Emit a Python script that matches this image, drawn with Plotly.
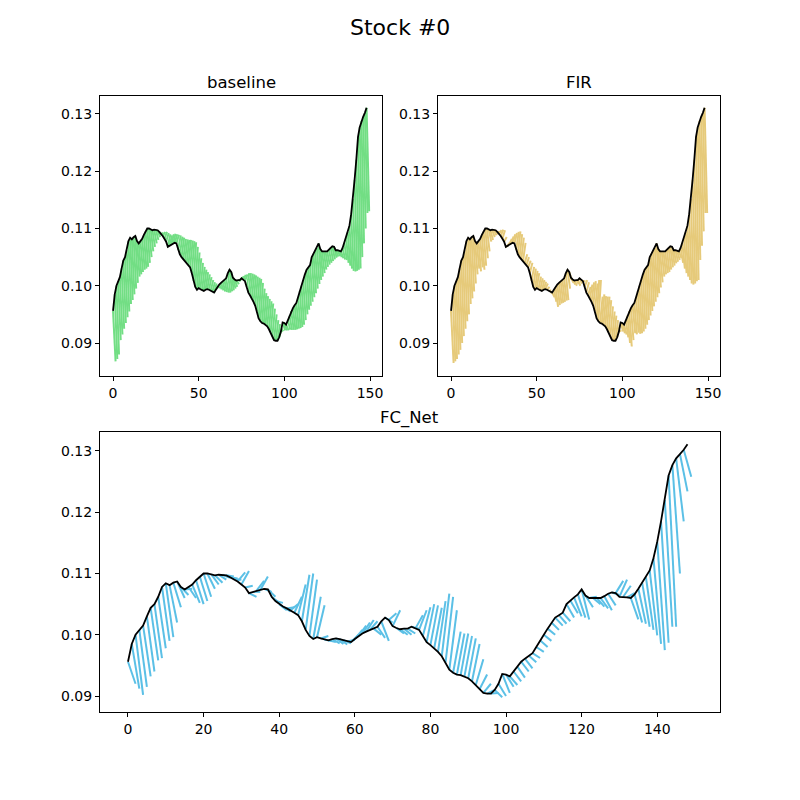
import plotly.graph_objects as go

# true price path, one value per step t = 0..148
price = [
    0.0956, 0.0985, 0.1000, 0.1008, 0.1015, 0.1030, 0.1044, 0.1050, 0.1062, 0.1078,
    0.1084, 0.1081, 0.1085, 0.1087, 0.1078, 0.1074, 0.1078, 0.1082, 0.1089, 0.1095,
    0.1100, 0.1100, 0.1099, 0.1097, 0.1098, 0.1098, 0.1097, 0.1094, 0.1091, 0.1087,
    0.1082, 0.1077, 0.1068, 0.1070, 0.1072, 0.1073, 0.1075, 0.1074, 0.1062, 0.1055,
    0.1050, 0.1046, 0.1043, 0.1040, 0.1036, 0.1032, 0.1022, 0.1008, 0.0998, 0.0993,
    0.0996, 0.0994, 0.0992, 0.0991, 0.0993, 0.0994, 0.0993, 0.0991, 0.0989, 0.0988,
    0.0993, 0.0998, 0.1002, 0.1005, 0.1008, 0.1010, 0.1013, 0.1022, 0.1028, 0.1024,
    0.1014, 0.1011, 0.1009, 0.1010, 0.1010, 0.1013, 0.1010, 0.1008, 0.0998, 0.0988,
    0.0983, 0.0978, 0.0972, 0.0965, 0.0955, 0.0943, 0.0938, 0.0935, 0.0934, 0.0932,
    0.0929, 0.0924, 0.0918, 0.0911, 0.0905, 0.0904, 0.0904, 0.0910, 0.0920, 0.0936,
    0.0935, 0.0932, 0.0940, 0.0948, 0.0956, 0.0961, 0.0966, 0.0970, 0.0980, 0.0991,
    0.1000, 0.1010, 0.1020, 0.1028, 0.1032, 0.1036, 0.1050, 0.1056, 0.1061, 0.1066,
    0.1074, 0.1064, 0.1060, 0.1060, 0.1060, 0.1060, 0.1063, 0.1067, 0.1069, 0.1068,
    0.1062, 0.1062, 0.1061, 0.1060, 0.1066, 0.1075, 0.1085, 0.1094, 0.1105, 0.1125,
    0.1152, 0.1185, 0.1220, 0.1260, 0.1277, 0.1288, 0.1295, 0.1302, 0.1311,
]

# forecast end value issued at each step t, per model
baseline_fc = [
    0.0868, 0.0872, 0.0880, 0.0905, 0.0915, 0.0925, 0.0935, 0.0945, 0.0955, 0.0968,
    0.0975, 0.0985, 0.0995, 0.1005, 0.1016, 0.1020, 0.1024, 0.1028, 0.1030, 0.1033,
    0.1040, 0.1050, 0.1060, 0.1068, 0.1074, 0.1080, 0.1085, 0.1088, 0.1092, 0.1094,
    0.1094, 0.1092, 0.1090, 0.1088, 0.1090, 0.1091, 0.1090, 0.1089, 0.1088, 0.1086,
    0.1084, 0.1082, 0.1081, 0.1080, 0.1080, 0.1079, 0.1078, 0.1076, 0.1068, 0.1058,
    0.1048, 0.1040, 0.1033, 0.1028, 0.1024, 0.1020, 0.1015, 0.1010, 0.1006, 0.1004,
    0.1000, 0.0997, 0.0994, 0.0992, 0.0990, 0.0989, 0.0988, 0.0988, 0.0990, 0.0992,
    0.0995, 0.0998, 0.1003, 0.1008, 0.1012, 0.1016, 0.1019, 0.1020, 0.1022, 0.1022,
    0.1021, 0.1020, 0.1018, 0.1016, 0.1014, 0.1012, 0.1005, 0.0995, 0.0987, 0.0982,
    0.0977, 0.0973, 0.0969, 0.0960, 0.0950, 0.0940, 0.0933, 0.0926, 0.0923, 0.0922,
    0.0922, 0.0922, 0.0923, 0.0923, 0.0923, 0.0923, 0.0924, 0.0925, 0.0926, 0.0928,
    0.0932, 0.0940, 0.0950, 0.0958, 0.0965, 0.0972, 0.0980, 0.0987, 0.0995, 0.1003,
    0.1010, 0.1016, 0.1022, 0.1028, 0.1033, 0.1037, 0.1040, 0.1043, 0.1046, 0.1049,
    0.1051, 0.1052, 0.1050, 0.1048, 0.1046, 0.1045, 0.1040, 0.1035, 0.1030, 0.1026,
    0.1025, 0.1026, 0.1028, 0.1030, 0.1050, 0.1074, 0.1100, 0.1127, 0.1130,
]

fir_fc = [
    0.0865, 0.0868, 0.0872, 0.0880, 0.0888, 0.0900, 0.0912, 0.0925, 0.0938, 0.0950,
    0.0968, 0.0978, 0.0990, 0.1004, 0.1020, 0.1030, 0.1025, 0.1032, 0.1028, 0.1035,
    0.1048, 0.1060, 0.1077, 0.1080, 0.1085, 0.1088, 0.1090, 0.1094, 0.1097, 0.1098,
    0.1097, 0.1085, 0.1071, 0.1076, 0.1082, 0.1086, 0.1090, 0.1092, 0.1094, 0.1095,
    0.1090, 0.1084, 0.1075, 0.1055, 0.1050, 0.1044, 0.1040, 0.1033, 0.1030, 0.1026,
    0.1022, 0.1016, 0.1013, 0.1010, 0.1007, 0.1004, 0.0998, 0.0992, 0.0987, 0.0980,
    0.0972, 0.0963, 0.0966, 0.0969, 0.0970, 0.0972, 0.0974, 0.0975, 0.0995, 0.1010,
    0.1005, 0.1002, 0.1000, 0.1003, 0.1000, 0.1004, 0.1006, 0.1008, 0.1010, 0.1006,
    0.0998, 0.1002, 0.1006, 0.1008, 0.1004, 0.1010, 0.1010, 0.0981, 0.0985, 0.0982,
    0.0981, 0.0981, 0.0975, 0.0964, 0.0955, 0.0948, 0.0940, 0.0932, 0.0922, 0.0920,
    0.0917, 0.0915, 0.0910, 0.0900, 0.0894, 0.0905, 0.0917, 0.0915, 0.0918, 0.0916,
    0.0917, 0.0920, 0.0925, 0.0932, 0.0940, 0.0948, 0.0956, 0.0964, 0.0972, 0.0980,
    0.0987, 0.0997, 0.1006, 0.1016, 0.1020, 0.1022, 0.1024, 0.1028, 0.1032, 0.1035,
    0.1039, 0.1042, 0.1045, 0.1048, 0.1040, 0.1030, 0.1022, 0.1016, 0.1010, 0.1004,
    0.1002, 0.1004, 0.1008, 0.1010, 0.1045, 0.1070, 0.1095, 0.1127, 0.1127,
]

fcnet_fc = [
    0.0920, 0.0912, 0.0902, 0.0915, 0.0932, 0.0940, 0.0958, 0.0962, 0.0978, 0.0990,
    0.0996, 0.1020, 0.1045, 0.1060, 0.1065, 0.1075, 0.1060, 0.1052, 0.1050, 0.1055,
    0.1062, 0.1075, 0.1082, 0.1085, 0.1090, 0.1093, 0.1095, 0.1092, 0.1090, 0.1102,
    0.1104, 0.1080, 0.1062, 0.1070, 0.1088, 0.1095, 0.1070, 0.1062, 0.1052, 0.1052,
    0.1040, 0.1038, 0.1045, 0.1050, 0.1062, 0.1082, 0.1098, 0.1100, 0.1090, 0.1062,
    0.1048, 0.0998, 0.0990, 0.0988, 0.0986, 0.0985, 0.0984, 0.0986, 0.0992, 0.1000,
    0.1008, 0.1015, 0.1020, 0.1024, 0.1022, 0.1000, 0.0995, 0.0990, 0.1020, 0.1035,
    0.1040, 0.1002, 0.1000, 0.1000, 0.1002, 0.1010, 0.1032, 0.1040, 0.1045, 0.1050,
    0.1048, 0.1044, 0.1055, 0.1067, 0.1062, 0.1040, 0.1005, 0.1002, 0.1002, 0.0998,
    0.0994, 0.0985, 0.0960, 0.0935, 0.0920, 0.0910, 0.0905, 0.0898, 0.0900, 0.0905,
    0.0915, 0.0918, 0.0924, 0.0930, 0.0940, 0.0945, 0.0955, 0.0962, 0.0972, 0.0980,
    0.0990, 0.1000, 0.1008, 0.1015, 0.1018, 0.1022, 0.1028, 0.1035, 0.1030, 0.1028,
    0.1025, 0.1045, 0.1062, 0.1050, 0.1046, 0.1043, 0.1040, 0.1048, 0.1065, 0.1088,
    0.1090, 0.1080, 0.1068, 0.1025, 0.1020, 0.1018, 0.1013, 0.1008, 0.0999, 0.0985,
    0.0975, 0.0987, 0.1013, 0.1013, 0.1100, 0.1185, 0.1234, 0.1258,
]

PANELS = [
    # name, forecasts, colour, axis suffix, horizon, line width
    ("baseline", baseline_fc, "#72DE84", "", 1.5, 2.0),
    ("FIR", fir_fc, "#E6CA7A", "2", 1.5, 2.0),
    ("FC_Net", fcnet_fc, "#5BC0E6", "3", 2.0, 2.0),
]

PAD = 8  # page body margin pushes the plot 8px right/down


def px(x):
    return (x - PAD) / 800


def py(y):
    return 1 - (y - PAD) / 800


def segments(fc, h):
    xs, ys = [], []
    for t, f in enumerate(fc):
        xs += [t, t + h, None]
        ys += [price[t], f, None]
    return xs, ys


fig = go.Figure()
steps = list(range(len(price)))
for name, fc, colour, ax, h, lw in PANELS:
    xs, ys = segments(fc, h)
    fig.add_trace(go.Scatter(x=xs, y=ys, mode="lines", line=dict(color=colour, width=lw),
                             xaxis="x" + ax, yaxis="y" + ax, showlegend=False, hoverinfo="skip"))
    fig.add_trace(go.Scatter(x=steps, y=price, mode="lines", line=dict(color="black", width=1.8),
                             xaxis="x" + ax, yaxis="y" + ax, showlegend=False))

axis = dict(showline=True, linecolor="black", linewidth=1, mirror=True, ticks="outside",
            ticklen=4, tickcolor="black", showgrid=False, zeroline=False,
            tickfont=dict(size=14, color="black"))
yfmt = dict(axis, tickvals=[0.09, 0.10, 0.11, 0.12, 0.13], tickformat=".2f")


def title(text, x, y, size):
    return dict(text=text, x=x, y=y, xref="paper", yref="paper", showarrow=False,
                xanchor="center", yanchor="middle", font=dict(size=size))


fig.update_layout(
    width=800, height=800, margin=dict(l=0, r=0, t=0, b=0),
    paper_bgcolor="white", plot_bgcolor="white",
    font=dict(family="DejaVu Sans", color="black"),
    xaxis=dict(axis, domain=[px(100), px(382)], range=[-7.6, 157], tickvals=[0, 50, 100, 150], anchor="y"),
    yaxis=dict(yfmt, domain=[py(376), py(96)], range=[0.08424, 0.13314], anchor="x"),
    xaxis2=dict(axis, domain=[px(438), px(720)], range=[-7.6, 157], tickvals=[0, 50, 100, 150], anchor="y2"),
    yaxis2=dict(yfmt, domain=[py(376), py(96)], range=[0.08424, 0.13314], anchor="x2"),
    xaxis3=dict(axis, domain=[px(100), px(720)], range=[-7.4, 156.6], tickvals=list(range(0, 141, 20)), anchor="y3"),
    yaxis3=dict(yfmt, domain=[py(712), py(432)], range=[0.08739, 0.1331], anchor="x3"),
    annotations=[
        title("Stock #0", px(400), py(27), 22),
        title("baseline", px(241), py(82), 16.5),
        title("FIR", px(579), py(82), 16.5),
        title("FC_Net", px(410), py(418), 16.5),
    ],
)

fig.write_html("out.html")
